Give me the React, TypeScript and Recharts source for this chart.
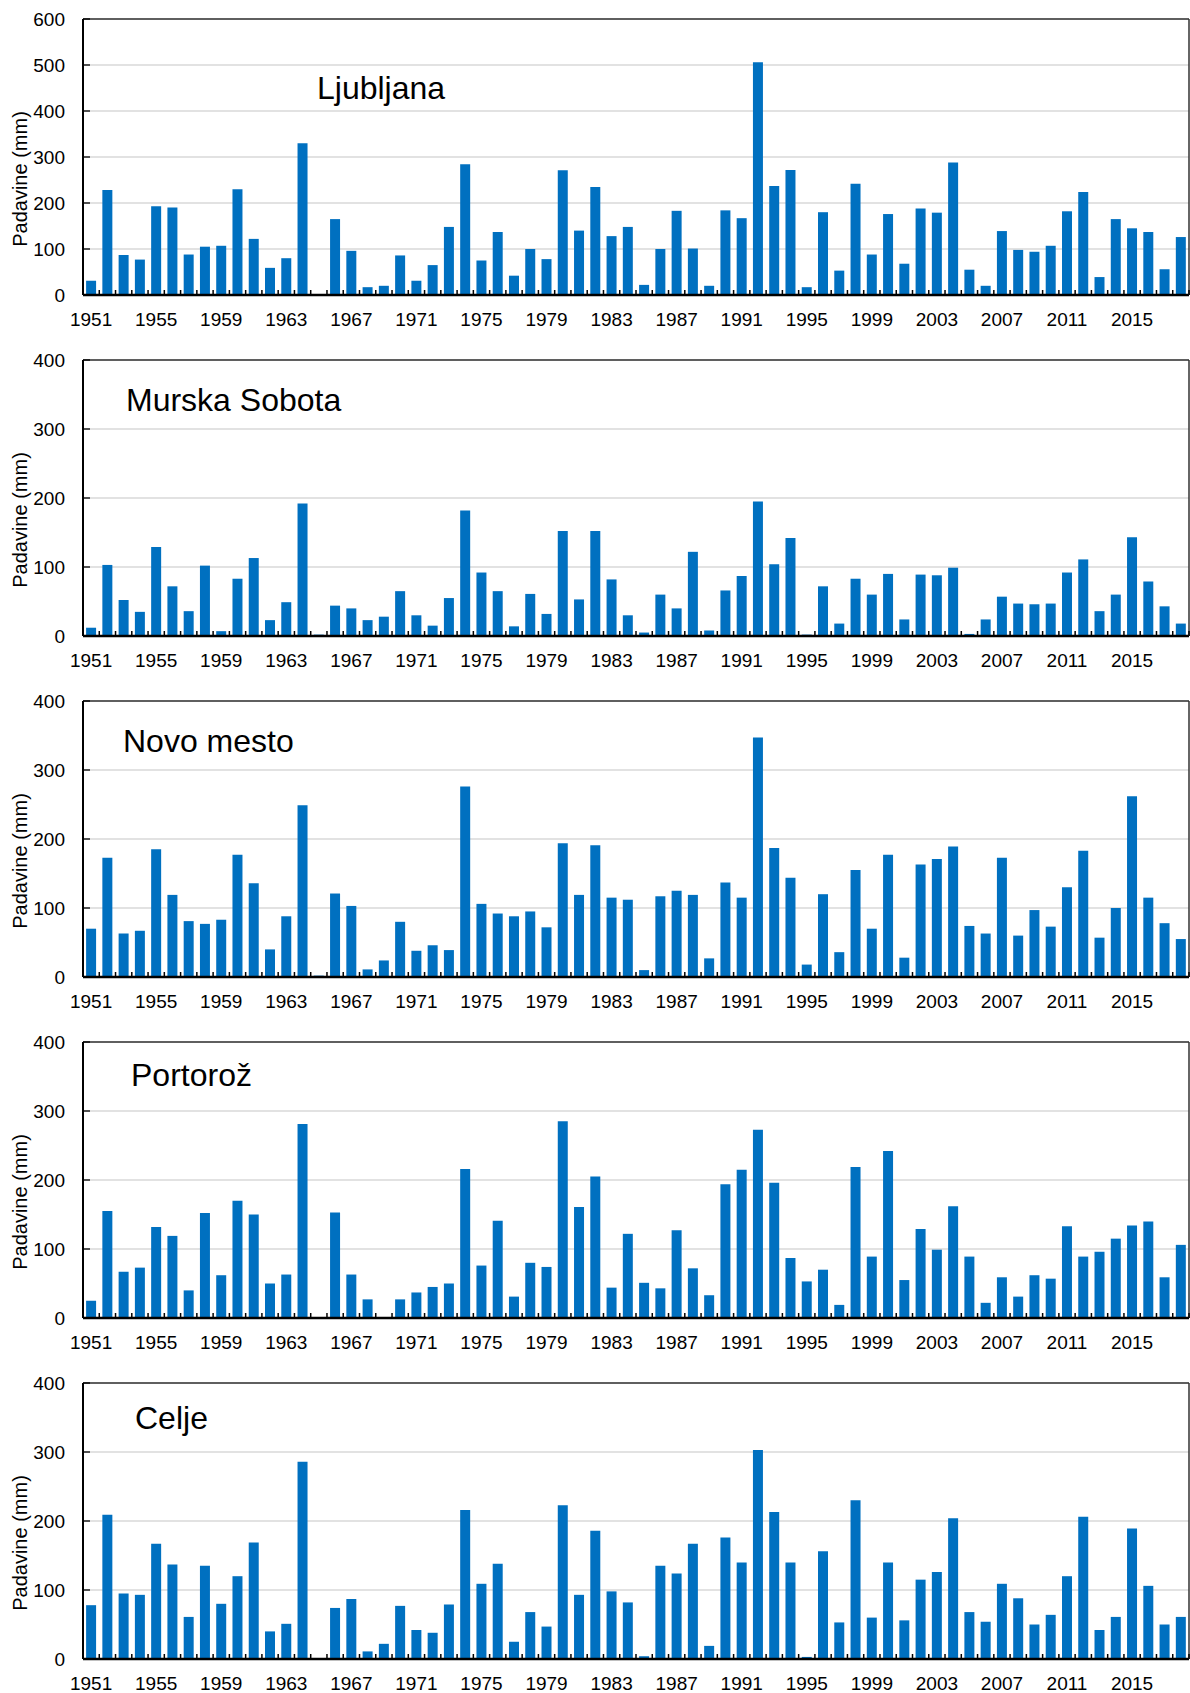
import { BarChart, Bar, XAxis, YAxis, CartesianGrid } from 'recharts';

// Years 1951–2018
const years = [
  1951, 1952, 1953, 1954, 1955, 1956, 1957, 1958, 1959, 1960,
  1961, 1962, 1963, 1964, 1965, 1966, 1967, 1968, 1969, 1970,
  1971, 1972, 1973, 1974, 1975, 1976, 1977, 1978, 1979, 1980,
  1981, 1982, 1983, 1984, 1985, 1986, 1987, 1988, 1989, 1990,
  1991, 1992, 1993, 1994, 1995, 1996, 1997, 1998, 1999, 2000,
  2001, 2002, 2003, 2004, 2005, 2006, 2007, 2008, 2009, 2010,
  2011, 2012, 2013, 2014, 2015, 2016, 2017, 2018,
];

const labelledYears = [1951, 1955, 1959, 1963, 1967, 1971, 1975, 1979, 1983, 1987, 1991, 1995, 1999, 2003, 2007, 2011, 2015];

const ljubljana = [
  31, 228, 87, 77, 193, 190, 88, 105, 107, 230,
  122, 59, 80, 330, 2, 165, 96, 17, 20, 86,
  31, 65, 148, 284, 75, 137, 42, 100, 78, 271,
  140, 235, 128, 148, 22, 100, 183, 101, 20, 184,
  167, 506, 237, 272, 17, 180, 53, 242, 88, 176,
  68, 188, 179, 288, 55, 20, 139, 98, 94, 107,
  182, 224, 39, 165, 145, 137, 56, 126,
];

const murskaSobota = [
  12, 103, 52, 35, 129, 72, 36, 102, 7, 83,
  113, 23, 49, 192, 2, 44, 40, 23, 28, 65,
  30, 15, 55, 182, 92, 65, 14, 61, 32, 152,
  53, 152, 82, 30, 5, 60, 40, 122, 8, 66,
  87, 195, 104, 142, 2, 72, 18, 83, 60, 90,
  24, 89, 88, 99, 3, 24, 57, 47, 46, 47,
  92, 111, 36, 60, 143, 79, 43, 18,
];

const novoMesto = [
  70, 173, 63, 67, 185, 119, 81, 77, 83, 177,
  136, 40, 88, 249, 2, 121, 103, 11, 24, 80,
  38, 46, 39, 276, 106, 92, 88, 95, 72, 194,
  119, 191, 115, 112, 10, 117, 125, 119, 27, 137,
  115, 347, 187, 144, 18, 120, 36, 155, 70, 177,
  28, 163, 171, 189, 74, 63, 173, 60, 97, 73,
  130, 183, 57, 100, 262, 115, 78, 55,
];

const portoroz = [
  25, 155, 67, 73, 132, 119, 40, 152, 62, 170,
  150, 50, 63, 281, 1, 153, 63, 27, 0, 27,
  37, 45, 50, 216, 76, 141, 31, 80, 74, 285,
  161, 205, 44, 122, 51, 43, 127, 72, 33, 194,
  215, 273, 196, 87, 53, 70, 19, 219, 89, 242,
  55, 129, 99, 162, 89, 22, 59, 31, 62, 57,
  133, 89, 96, 115, 134, 140, 59, 106,
];

const celje = [
  78, 209, 95, 93, 167, 137, 61, 135, 80, 120,
  169, 40, 51, 286, 0, 74, 87, 11, 22, 77,
  42, 38, 79, 216, 109, 138, 25, 68, 47, 223,
  93, 186, 98, 82, 4, 135, 124, 167, 19, 176,
  140, 303, 213, 140, 3, 156, 53, 230, 60, 140,
  56, 115, 126, 204, 68, 54, 109, 88, 50, 64,
  120, 206, 42, 61, 189, 106, 50, 61,
];

const stationNames = ['Ljubljana', 'Murska Sobota', 'Novo mesto', 'Portorož', 'Celje'];
const stationValues = [ljubljana, murskaSobota, novoMesto, portoroz, celje];
const ticksLarge = [0, 100, 200, 300, 400, 500, 600];
const ticksSmall = [0, 100, 200, 300, 400];
const stationTicks = [ticksLarge, ticksSmall, ticksSmall, ticksSmall, ticksSmall];

// layout
const W = 1190;
const H = 1693;
const PANEL_H = 341;
const PLOT_TOP = 19;
const PLOT_H = 276;
const PLOT_LEFT = 83;
const PLOT_RIGHT = 1189;
const BAND = (PLOT_RIGHT - PLOT_LEFT) / years.length;
const FONT = '"Liberation Sans", Arial, Helvetica, sans-serif';
const BLUE = '#0070C0';

// title placement per panel: [x offset from plot left, baseline below plot top]
const titlePos = [
  [234, 80],
  [43, 51],
  [40, 51],
  [48, 44],
  [52, 46],
];

function XTick(props: any) {
  const { x, y, payload } = props;
  const show = labelledYears.includes(payload.value);
  return (
    <g>
      <line x1={x + BAND / 2} x2={x + BAND / 2} y1={y} y2={y - 5} stroke="#000" strokeWidth={1.5} />
      {show && (
        <text x={x} y={y + 31} textAnchor="middle" fontSize={19} fontFamily={FONT} fill="#000">
          {payload.value}
        </text>
      )}
    </g>
  );
}

function YTick(props: any) {
  const { x, y, payload } = props;
  return (
    <g>
      <line x1={x} x2={x + 7} y1={y} y2={y} stroke="#000" strokeWidth={1.3} />
      <text x={x - 18} y={y} dy="0.36em" textAnchor="end" fontSize={19} fontFamily={FONT} fill="#000">
        {payload.value}
      </text>
    </g>
  );
}

function Panel({ idx }: { idx: number }) {
  const values = stationValues[idx];
  const ticks = stationTicks[idx];
  const yMax = ticks[ticks.length - 1];
  const data = years.map((year, i) => ({ year, value: values[i] }));
  const [tdx, tdy] = titlePos[idx];

  return (
    <BarChart
      width={W}
      height={PANEL_H}
      data={data}
      margin={{ top: 0, right: 0, left: 0, bottom: 0 }}
      barCategoryGap="19%"
    >
      <CartesianGrid vertical={false} stroke="#d9d9d9" strokeWidth={1.3} xAxisId="b" yAxisId="l" />
      <XAxis
        xAxisId="t"
        orientation="top"
        dataKey="year"
        height={PLOT_TOP}
        tick={false}
        tickLine={false}
        axisLine={{ stroke: '#333', strokeWidth: 1.5 }}
        label={{
          content: () => (
            <text x={PLOT_LEFT + tdx} y={PLOT_TOP + tdy} fontSize={32} fontFamily={FONT} fill="#000">
              {stationNames[idx]}
            </text>
          ),
        }}
      />
      <XAxis
        xAxisId="b"
        dataKey="year"
        height={PANEL_H - PLOT_TOP - PLOT_H}
        interval={0}
        tickSize={0}
        tickMargin={0}
        tickLine={false}
        axisLine={{ stroke: '#000', strokeWidth: 2.5 }}
        tick={<XTick />}
      />
      <YAxis
        yAxisId="l"
        width={PLOT_LEFT}
        domain={[0, yMax]}
        ticks={ticks}
        interval={0}
        tickSize={0}
        tickMargin={0}
        tickLine={false}
        axisLine={{ stroke: '#000', strokeWidth: 2 }}
        tick={<YTick />}
        label={{
          content: () => (
            <text
              transform={`translate(20, ${PLOT_TOP + PLOT_H / 2 + 22}) rotate(-90)`}
              textAnchor="middle"
              dominantBaseline="central"
              fontSize={20}
              fontFamily={FONT}
              fill="#000"
            >
              Padavine (mm)
            </text>
          ),
        }}
      />
      <YAxis
        yAxisId="r"
        orientation="right"
        width={W - PLOT_RIGHT}
        domain={[0, yMax]}
        tick={false}
        tickLine={false}
        axisLine={{ stroke: '#333', strokeWidth: 1.5 }}
      />
      <Bar dataKey="value" xAxisId="b" yAxisId="l" fill={BLUE} isAnimationActive={false} />
    </BarChart>
  );
}

export default function App() {
  return (
    <div
      style={{
        position: 'absolute',
        left: 0,
        top: 0,
        width: W,
        height: H,
        overflow: 'hidden',
        background: '#fff',
        fontFamily: FONT,
      }}
    >
      {stationNames.map((name, i) => (
        <div key={name} style={{ position: 'absolute', left: 0, top: i * PANEL_H, width: W, height: PANEL_H }}>
          <Panel idx={i} />
        </div>
      ))}
    </div>
  );
}
